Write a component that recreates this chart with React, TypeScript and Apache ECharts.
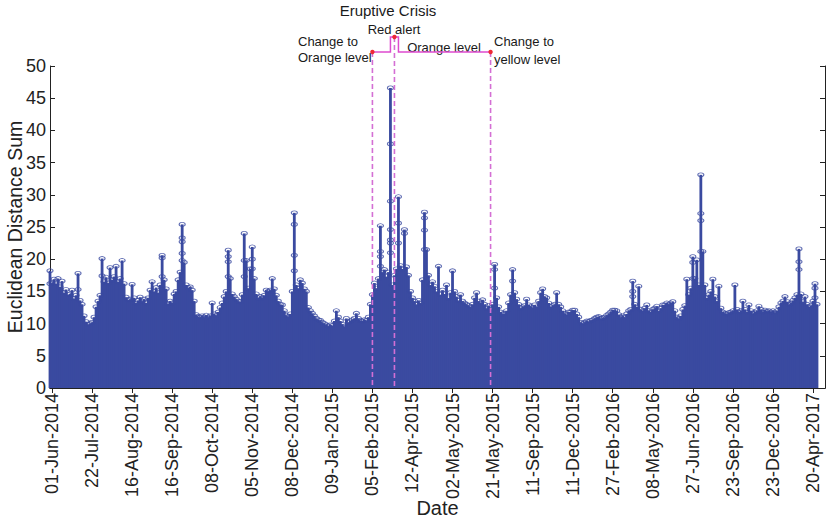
import React, { useEffect, useRef } from "react";
import * as echarts from "echarts";

// Tick labels (evenly spaced by sample index, every 20 samples starting at sample 1)
const tickLabels = [
  "01-Jun-2014", "22-Jul-2014", "16-Aug-2014", "16-Sep-2014", "08-Oct-2014",
  "05-Nov-2014", "08-Dec-2014", "09-Jan-2015", "05-Feb-2015", "12-Apr-2015",
  "02-May-2015", "21-May-2015", "11-Sep-2015", "11-Dec-2015", "27-Feb-2016",
  "08-May-2016", "27-Jun-2016", "23-Sep-2016", "23-Dec-2016", "20-Apr-2017",
];
const TICK_START = 1;
const TICK_STEP = 20;
const CATEGORY_COUNT = 388;

const segJun2014toDec2014 = [
  18.2, 16.3, 16.9, 16.2, 17.0, 15.7, 16.6, 14.8, 15.3, 14.5,
  14.6, 15.2, 13.9, 14.4, 17.8, 13.6, 13.0, 11.2, 10.3, 9.9,
  10.0, 10.2, 11.0, 12.6, 13.5, 14.4, 20.1, 16.5, 17.2, 16.3,
  18.7, 16.8, 17.3, 18.9, 16.5, 17.0, 19.8, 16.2, 14.1, 13.7,
  13.8, 16.1, 14.0, 13.2, 13.6, 14.1, 13.5, 13.8, 13.2, 14.0,
  15.2, 16.5, 15.0, 15.6, 14.8, 16.0, 20.6, 16.8, 15.4, 13.1,
  13.5, 13.2, 14.6, 15.0, 16.8, 18.0, 25.4, 19.5, 16.0, 15.6,
  15.7, 15.2, 13.5, 11.4, 11.1, 11.0, 11.2, 11.0, 11.3, 11.0,
  11.2, 13.2, 11.5, 11.3, 11.8, 12.5, 13.2, 14.2, 15.0, 21.4,
  17.0, 14.6, 14.2, 13.8, 13.5, 13.4, 14.5, 24.0, 19.8, 15.5,
  18.5, 21.9, 17.0, 14.6, 14.0, 14.2, 14.0, 14.4, 15.2, 15.0,
  15.2, 17.0, 15.4, 14.4, 13.5, 13.0, 12.9, 12.0, 11.3, 11.1,
  11.5, 15.0, 27.2, 16.0, 15.5, 16.8, 16.3, 15.4, 15.0, 12.5,
];
const segJan2015toFeb2015 = [
  12.0, 11.6, 11.2, 10.8, 10.6, 10.5, 10.2, 10.0, 9.8, 9.6,
  9.8, 9.7, 10.4, 12.0, 11.0, 10.4, 9.9, 9.6, 10.8, 10.2,
  10.4, 10.6, 10.8, 11.6, 10.8, 10.5, 10.4, 10.6, 10.5, 11.0,
];
const segCrisis2015 = [
  13.0, 14.5, 16.3, 15.5, 17.0, 25.2, 18.0, 18.4, 17.3, 18.0,
  46.6, 16.0, 17.5, 18.5, 29.7, 19.0, 18.5, 24.6, 18.8, 17.5,
  15.0, 14.0, 13.5, 13.0, 13.6, 13.2, 16.8, 27.3, 21.5, 17.5,
  16.0, 16.5, 15.8, 15.0, 18.9, 14.5, 15.2, 14.6, 16.0, 14.0,
  14.8, 18.2, 15.0, 14.2, 13.6, 14.5, 13.5, 13.2, 13.0, 12.8,
  12.6, 13.0, 14.0, 14.8, 13.5, 13.2, 13.7, 13.0, 12.4, 12.8,
];
const segMay2015toMar2016 = [
  12.2, 13.0, 19.2, 14.0, 12.6, 11.8, 11.5, 11.6, 12.0, 13.2,
  14.5, 18.4, 14.8, 13.8, 13.0, 12.4, 12.6, 12.8, 13.8, 12.9,
  12.7, 12.5, 12.9, 12.6, 13.5, 14.8, 15.4, 14.2, 14.0, 13.2,
  12.6, 12.8, 13.0, 14.8, 13.0, 12.6, 12.0, 11.6, 11.4, 11.8,
  11.8, 12.1, 12.1, 11.5, 11.0, 10.2, 10.0, 10.2, 10.4, 10.3,
  10.5, 10.6, 10.8, 11.0, 11.1, 10.8, 10.9, 11.0, 11.3, 11.5,
];
const segMar2016toApr2017 = [
  11.8, 12.1, 12.1, 12.0, 11.4, 11.0, 11.2, 11.0, 11.5, 12.0,
  12.2, 16.6, 13.0, 12.6, 15.8, 12.2, 12.0, 12.4, 12.9, 12.0,
  11.8, 12.2, 12.4, 12.7, 12.0, 12.4, 12.9, 12.9, 13.2, 13.0,
  13.2, 13.4, 12.0, 11.0, 10.8, 11.2, 12.2, 12.8, 16.9, 14.5,
  15.5, 20.4, 17.0, 19.9, 16.0, 33.1, 21.2, 16.0, 14.0, 14.5,
  15.0, 16.9, 14.2, 13.5, 15.8, 12.4, 11.8, 11.6, 11.5, 11.7,
  11.8, 12.0, 16.0, 12.2, 11.8, 12.0, 13.5, 12.2, 11.8, 12.9,
  12.0, 11.6, 11.8, 12.0, 12.7, 12.2, 11.8, 12.1, 11.9, 12.0,
  11.8, 12.0, 11.7, 12.0, 12.6, 13.2, 13.5, 14.2, 13.4, 13.0,
  13.2, 13.6, 14.0, 14.5, 21.6, 14.6, 13.4, 14.2, 13.0, 12.6,
  12.8, 13.5, 16.2, 13.0,
];

// Secondary samples visible along the tall stems: [sample index, value]
const stemSamples: [number, number][] = [
  [0, 16.2], [14, 15.3], [26, 17.4], [56, 20.2], [56, 17.3],
  [66, 23.3], [66, 22.7], [66, 20.9], [66, 19.8],
  [89, 20.4], [89, 19.6], [89, 17.3], [97, 19.8], [97, 17.3],
  [101, 20.0], [101, 18.5], [122, 25.4], [122, 20.6], [122, 18.2],
  [165, 21.2], [165, 20.4], [165, 18.9],
  [170, 37.9], [170, 29.0], [170, 24.6], [170, 23.0], [170, 22.5], [170, 21.0],
  [174, 25.6], [174, 22.5], [177, 24.0],
  [187, 26.4], [187, 24.5], [187, 21.5],
  [222, 18.4], [222, 15.5], [231, 16.6], [291, 15.0], [291, 14.2],
  [321, 19.5], [321, 17.0], [325, 27.1], [325, 26.0], [325, 21.2],
  [374, 19.6], [374, 18.4], [382, 15.5], [382, 14.0],
];

// Alert-level events (sample indices)
const eventOrangeStart = 161;
const eventRedStart = 170;
const eventRedMark = 172;
const eventRedEnd = 174;
const eventYellow = 220;

const values = [
  ...segJun2014toDec2014,
  ...segJan2015toFeb2015,
  ...segCrisis2015,
  ...segMay2015toMar2016,
  ...segMar2016toApr2017,
];

const categories = Array.from({ length: CATEGORY_COUNT }, (_, i) => String(i));
const isTick = (idx: number) =>
  idx >= TICK_START && (idx - TICK_START) % TICK_STEP === 0 && (idx - TICK_START) / TICK_STEP < tickLabels.length;

const BLUE = "#3a4aa0";
const AXIS = "#222222";
const FONT = "'Liberation Sans', Arial, Helvetica, sans-serif";
const MAGENTA = "#de4bcf";
const DASH = "#d46fd4";
const RED = "#ee2a36";

export default function App() {
  const ref = useRef<HTMLDivElement>(null);
  useEffect(() => {
    document.body.style.margin = "0";
    if (!ref.current) return;
    const chart = echarts.init(ref.current, undefined, { renderer: "svg" });
    const option: any = {
      animation: false,
      grid: { left: 50, right: 1, top: 66, bottom: 132, containLabel: false, outerBoundsMode: "none" },
      xAxis: [
        {
          type: "category",
          data: categories,
          boundaryGap: false,
          position: "bottom",
          axisLine: { lineStyle: { color: AXIS, width: 1 } },
          axisTick: { inside: true, length: 5, interval: (i: number) => isTick(i), lineStyle: { color: AXIS } },
          axisLabel: {
            interval: (i: number) => isTick(i),
            rotate: 90,
            margin: 5,
            fontSize: 18,
            color: AXIS,
            fontFamily: FONT,
            formatter: (v: string) => {
              const k = (Number(v) - TICK_START) / TICK_STEP;
              return tickLabels[k] ?? "";
            },
          },
          splitLine: { show: false },
          name: "Date",
          nameLocation: "middle",
          nameGap: 110,
          nameMoveOverlap: false,
          nameTextStyle: { fontSize: 20, color: AXIS, fontFamily: FONT },
        },
        {
          type: "category",
          data: categories,
          boundaryGap: false,
          position: "top",
          axisLine: { lineStyle: { color: AXIS, width: 1 } },
          axisTick: { inside: true, length: 5, interval: (i: number) => isTick(i), lineStyle: { color: AXIS } },
          axisLabel: { show: false },
          splitLine: { show: false },
        },
      ],
      yAxis: [
        {
          type: "value",
          min: 0,
          max: 50,
          interval: 5,
          position: "left",
          axisLine: { show: true, lineStyle: { color: AXIS, width: 1 } },
          axisTick: { show: true, inside: true, length: 5, lineStyle: { color: AXIS } },
          axisLabel: { fontSize: 18, color: AXIS, margin: 4, fontFamily: FONT },
          splitLine: { show: false },
          name: "Euclidean Distance Sum",
          nameLocation: "middle",
          nameGap: 25,
          nameMoveOverlap: false,
          nameTextStyle: { fontSize: 19.5, color: AXIS, fontFamily: FONT },
        },
        {
          type: "value",
          min: 0,
          max: 50,
          interval: 5,
          position: "right",
          axisLine: { show: true, lineStyle: { color: AXIS, width: 1 } },
          axisTick: { show: true, inside: true, length: 5, lineStyle: { color: AXIS } },
          axisLabel: { show: false },
          splitLine: { show: false },
        },
      ],
      series: [
        {
          type: "bar",
          xAxisIndex: 0,
          yAxisIndex: 0,
          data: values,
          barWidth: 2.8,
          itemStyle: { color: BLUE },
          silent: true,
        },
        {
          type: "scatter",
          xAxisIndex: 0,
          yAxisIndex: 0,
          data: values,
          symbol: "circle",
          symbolSize: [6, 4],
          itemStyle: { color: "rgba(0,0,0,0)", borderColor: BLUE, borderWidth: 1 },
          silent: true,
        },
        {
          type: "scatter",
          xAxisIndex: 0,
          yAxisIndex: 0,
          data: stemSamples,
          symbol: "circle",
          symbolSize: [6, 4],
          itemStyle: { color: "rgba(0,0,0,0)", borderColor: BLUE, borderWidth: 1 },
          silent: true,
        },
      ],
    };
    chart.setOption(option);

    const px = (i: number) => chart.convertToPixel({ xAxisIndex: 0 }, i) as number;
    const yBottom = chart.convertToPixel({ yAxisIndex: 0 }, 0) as number;
    const yOrange = 52;
    const yRed = 37;
    const xO = px(eventOrangeStart);
    const xR0 = px(eventRedStart);
    const xRm = px(eventRedMark);
    const xR1 = px(eventRedEnd);
    const xY = px(eventYellow);
    const textStyle = (extra: any) => ({ fill: "#1a1a1a", fontFamily: FONT, fontSize: 13, ...extra });

    chart.setOption({
      graphic: [
        { type: "line", shape: { x1: xO, y1: yOrange, x2: xO, y2: yBottom }, style: { stroke: DASH, lineWidth: 1.6, lineDash: [5, 3] }, z: 10 },
        { type: "line", shape: { x1: xRm, y1: yRed, x2: xRm, y2: yBottom }, style: { stroke: DASH, lineWidth: 1.6, lineDash: [5, 3] }, z: 10 },
        { type: "line", shape: { x1: xY, y1: yOrange, x2: xY, y2: yBottom }, style: { stroke: DASH, lineWidth: 1.6, lineDash: [5, 3] }, z: 10 },
        {
          type: "polyline",
          shape: { points: [[xO, yOrange], [xR0, yOrange], [xR0, yRed], [xR1, yRed], [xR1, yOrange], [xY, yOrange]] },
          style: { stroke: MAGENTA, lineWidth: 1.5, fill: null },
          z: 11,
        },
        { type: "circle", shape: { cx: xO, cy: yOrange, r: 2.2 }, style: { fill: RED }, z: 12 },
        { type: "circle", shape: { cx: xRm, cy: yRed, r: 2.2 }, style: { fill: RED }, z: 12 },
        { type: "circle", shape: { cx: xY, cy: yOrange, r: 2.2 }, style: { fill: RED }, z: 12 },
        { type: "text", x: 388, y: 10, style: textStyle({ text: "Eruptive Crisis", fontSize: 15, align: "center", verticalAlign: "middle" }) },
        { type: "text", x: 394, y: 29, style: textStyle({ text: "Red alert", align: "center", verticalAlign: "middle" }) },
        { type: "text", x: 298, y: 41, style: textStyle({ text: "Change to", align: "left", verticalAlign: "middle" }) },
        { type: "text", x: 298, y: 57, style: textStyle({ text: "Orange level", align: "left", verticalAlign: "middle" }) },
        { type: "text", x: 444, y: 47, style: textStyle({ text: "Orange level", align: "center", verticalAlign: "middle" }) },
        { type: "text", x: 494, y: 41, style: textStyle({ text: "Change to", align: "left", verticalAlign: "middle" }) },
        { type: "text", x: 494, y: 59, style: textStyle({ text: "yellow level", align: "left", verticalAlign: "middle" }) },
      ],
    });

    return () => chart.dispose();
  }, []);
  return <div ref={ref} style={{ width: 826, height: 520 }} />;
}
